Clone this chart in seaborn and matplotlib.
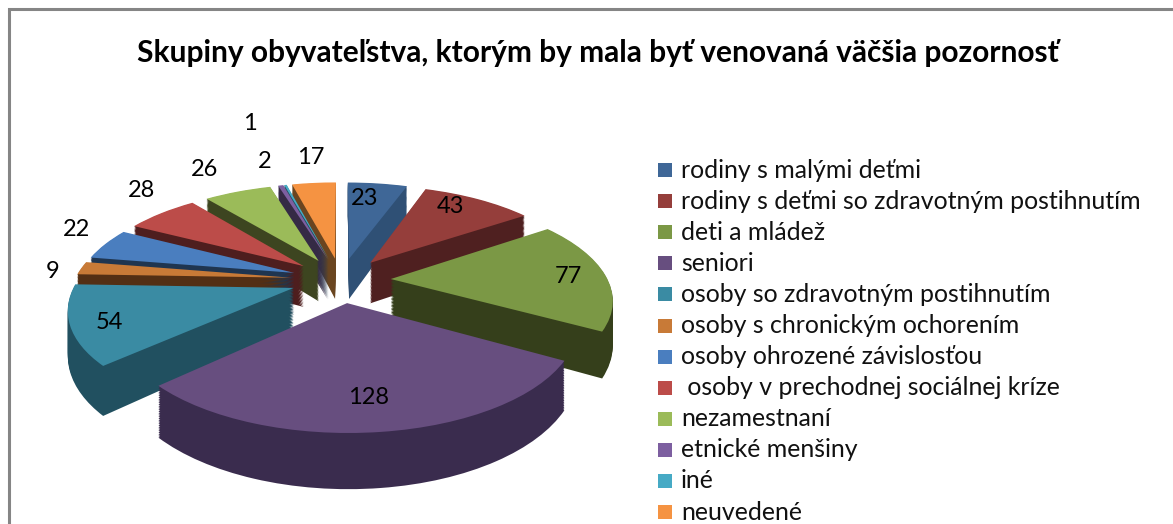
import numpy as np
import matplotlib
matplotlib.use("Agg")
import matplotlib.pyplot as plt
import seaborn as sns
from matplotlib.patches import Rectangle
from matplotlib.transforms import Transform, Affine2D

categories = ["rodiny s malými deťmi", "rodiny s deťmi so zdravotným postihnutím",
              "deti a mládež", "seniori", "osoby so zdravotným postihnutím",
              "osoby s chronickým ochorením", "osoby ohrozené závislosťou",
              " osoby v prechodnej sociálnej kríze",
              "nezamestnaní", "etnické menšiny", "iné", "neuvedené"]
values = [23, 43, 77, 128, 54, 9, 22, 28, 26, 2, 1, 17]
colors = ["#3F6797", "#953E3B", "#7B9845", "#674E7F", "#3A8BA3", "#C87A37",
          "#4A7EBF", "#BC4C49", "#9BBB59", "#7D5FA0", "#46AAC5", "#F59342"]
side_colors = ["#2F5075", "#4F2020", "#353F1B", "#3A2C4E", "#215060", "#532F14",
               "#1F3550", "#4E1E1E", "#3D4520", "#352A45", "#215060", "#6A4520"]
title = "Skupiny obyvateľstva, ktorým by mala byť venovaná väčšia pozornosť"

W, H = 1173, 524
CX, CY, RX = 341, 280, 217
TILT, PERSP = 0.447, 0.18
EXPLODE = 0.23
label_radius = [1.0, 1.05, 1.056, 1.0, 1.07, 1.356, 1.46, 1.56, 1.63, 1.636, 2.34, 1.65]
label_turn = [-2.2, -3.6, 0.8, 0.7, -1.6, -1.9, 4.2, 5.2, -1.3, 0, 0, 0.9]


class Perspective(Transform):
    input_dims = output_dims = 2

    def transform_non_affine(self, xy):
        xy = np.asarray(xy, dtype=float)
        w = 1 + PERSP * xy[:, 1]
        return np.column_stack([xy[:, 0] / w, TILT * xy[:, 1] / w])


sns.set_theme(style="white")
plt.rcParams['font.family'] = ['Lato', 'DejaVu Sans']
fig = plt.figure(figsize=(W / 100, H / 100), dpi=100)
ax = fig.add_axes([0, 0, 1, 1])
persp = Perspective()

# side walls: a stack of shifted copies, drawn back to front
mids = 90 - (np.cumsum(values) - np.array(values) / 2) / sum(values) * 360
order = np.argsort(np.argsort(-np.sin(np.radians(mids))))
for t in np.linspace(1, 0.02, 30):
    shift = Affine2D().scale(1, 1 + 0.092 * t).translate(0, -0.194 * t)
    w, _ = ax.pie(values, startangle=90, counterclock=False, explode=[EXPLODE] * len(values),
                  colors=side_colors, wedgeprops=dict(linewidth=0))
    for i, p in enumerate(w):
        p.set_transform(persp + shift + ax.transData)
        p.set_zorder(1 + order[i] + (1 - t) * 0.9)

wedges, _ = ax.pie(values, startangle=90, counterclock=False, explode=[EXPLODE] * len(values),
                   colors=colors, wedgeprops=dict(linewidth=0))
for p in wedges:
    p.set_transform(persp + ax.transData)
    p.set_zorder(50)

ax.set_aspect("auto")
ax.set_xlim(-CX / RX, (W - CX) / RX)
ax.set_ylim(-(H - CY) / RX, CY / RX)
ax.set_axis_off()

for v, m, r, d in zip(values, mids, label_radius, label_turn):
    a = np.radians(m - d)
    px, py = persp.transform_non_affine(np.array([[r * np.cos(a), r * np.sin(a)]]))[0]
    ax.text(px, py, str(v), ha="center", va="center", fontsize=17, color="black", zorder=60)

fig.add_artist(Rectangle((9 / W, -0.02), 2 * W, 1.02 - 9 / H, fill=False, ec="#858585", lw=2.2,
                         transform=fig.transFigure))
fig.text(598 / W, 1 - 53 / H, title, ha="center", va="center", fontsize=21.5, fontweight="bold", color="black")

y0, step = 170, 31.1
for i, c in enumerate(categories):
    y = y0 + i * step
    fig.add_artist(Rectangle((658 / W, 1 - (y + 7) / H), 14 / W, 14 / H, color=colors[i], lw=0,
                             transform=fig.transFigure))
    fig.text(681 / W, 1 - y / H, c, va="center", ha="left", fontsize=17.9, color="#111111")
fig.savefig("out.png", dpi=100)
